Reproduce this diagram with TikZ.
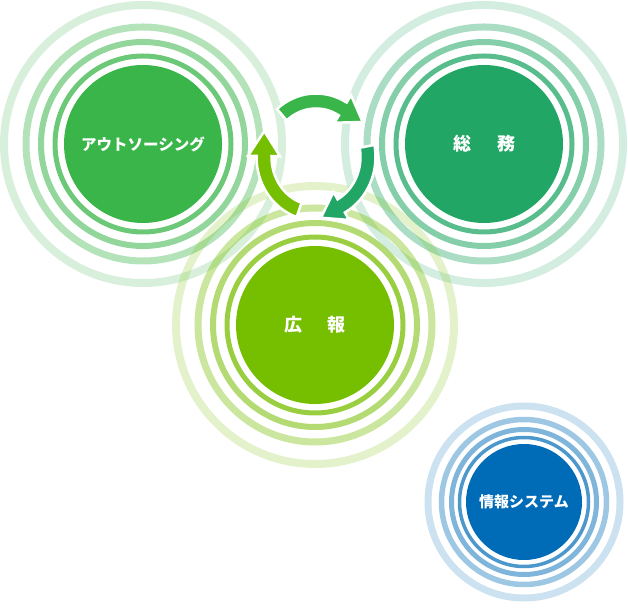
\documentclass[tikz,border=0pt]{standalone}
\usepackage{fontspec}
\setmainfont{Noto Sans CJK JP}
\definecolor{outG}{RGB}{58,181,74}
\definecolor{somG}{RGB}{33,166,101}
\definecolor{kouG}{RGB}{118,190,0}
\definecolor{infB}{RGB}{0,108,183}
\tikzset{
  core/.style={circle, inner sep=0pt, text=white, draw=none},
  ring/.style={fill=none},
  arrowshape/.style={draw=white, line width=2.5pt, line join=miter}
}
\newcommand\cyclearrow[3]{%
  \filldraw[arrowshape, fill=#1, shift={(cyc)}]
    (#2:59.5pt and 63.5pt) arc[start angle=#2, end angle=#3, x radius=59.5pt, y radius=63.5pt]
    -- (#3:68pt and 72pt) -- ({#3-24}:57pt and 61pt) -- (#3:36pt and 40pt)
    -- (#3:44.5pt and 48.5pt) arc[start angle=#3, end angle=#2, x radius=44.5pt, y radius=48.5pt]
    -- cycle;}
\begin{document}
\begin{tikzpicture}[x=1pt,y=1pt]
\useasboundingbox (0,0) rectangle (628,607);
% outsourcing
\node[core, fill=outG, minimum size=158pt, font=\fontsize{15.5}{18}\selectfont\bfseries] (out) at (143,463) {アウトソーシング};
\foreach \r/\w/\o in {88/5/0.75, 102/6/0.55, 117/7/0.38, 139/8/0.2}
  \draw[ring, draw=outG, line width=\w pt, opacity=\o] (out.center) circle (\r pt);
% somu
\node[core, fill=somG, minimum size=158pt, font=\fontsize{18}{21}\selectfont\bfseries] (som) at (484,463) {総\hspace{26pt}務};
\foreach \r/\w/\o in {88/5/0.75, 102/6/0.55, 117/7/0.38, 139/8/0.2}
  \draw[ring, draw=somG, line width=\w pt, opacity=\o] (som.center) circle (\r pt);
% kouhou
\node[core, fill=kouG, minimum size=158pt, font=\fontsize{18}{21}\selectfont\bfseries] (kou) at (315,282) {広\hspace{26pt}報};
\foreach \r/\w/\o in {88/5/0.75, 102/6/0.55, 117/7/0.38, 139/8/0.2}
  \draw[ring, draw=kouG, line width=\w pt, opacity=\o] (kou.center) circle (\r pt);
% info
\node[core, fill=infB, minimum size=116pt, font=\fontsize{15}{18}\selectfont\bfseries] (inf) at (524,105) {情報システム};
\foreach \r/\w/\o in {64.5/3.5/0.7, 72.5/5/0.5, 82.5/5.5/0.38, 96/7/0.2}
  \draw[ring, draw=infB, line width=\w pt, opacity=\o] (inf.center) circle (\r pt);
% cycle arrows
\coordinate (cyc) at (316,450);
\cyclearrow{outG}{131}{59}
\cyclearrow{somG}{11}{-61}
\cyclearrow{kouG}{-109}{-181}
\end{tikzpicture}
\end{document}
